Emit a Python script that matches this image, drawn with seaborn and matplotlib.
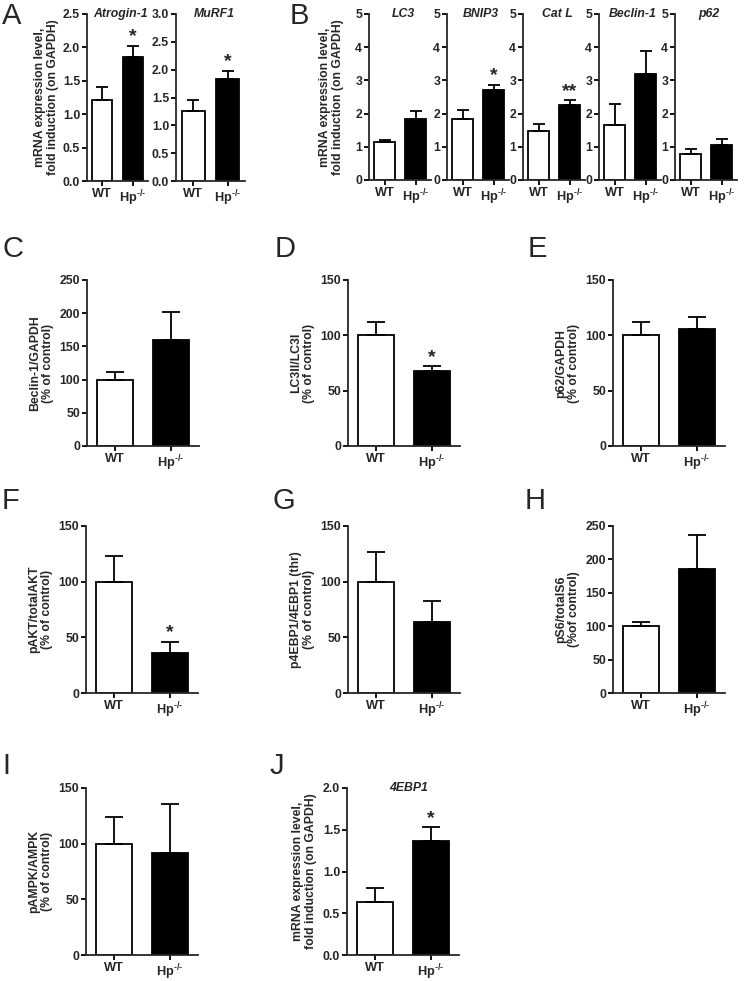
import matplotlib
matplotlib.use("Agg")
import matplotlib.pyplot as plt
import seaborn as sns
import numpy as np
import pandas as pd

sns.set_style("ticks")
plt.rcParams['font.family'] = ['Liberation Sans', 'DejaVu Sans']
plt.rcParams['mathtext.fontset'] = 'custom'
plt.rcParams['mathtext.rm'] = 'Liberation Sans:bold'
plt.rcParams['mathtext.bf'] = 'Liberation Sans:bold'
plt.rcParams['mathtext.it'] = 'Liberation Sans:italic'

# ---------------- data ----------------
groups = ["WT", "Hp-/-"]
group_labels = ["WT", r"Hp$^{\text{-/-}}$"]

atrogin_mean = [1.22, 1.85]
atrogin_sem = [0.18, 0.17]
murf1_mean = [1.25, 1.83]
murf1_sem = [0.21, 0.15]

lc3_mean = [1.15, 1.83]
lc3_sem = [0.05, 0.24]
bnip3_mean = [1.83, 2.70]
bnip3_sem = [0.29, 0.17]
catl_mean = [1.47, 2.25]
catl_sem = [0.21, 0.15]
beclin_mrna_mean = [1.65, 3.20]
beclin_mrna_sem = [0.63, 0.70]
p62_mrna_mean = [0.77, 1.05]
p62_mrna_sem = [0.16, 0.19]

beclin_prot_mean = [100, 160]
beclin_prot_sem = [12, 42]
lc3ratio_mean = [100, 68]
lc3ratio_sem = [12, 4]
p62_prot_mean = [100, 106]
p62_prot_sem = [12, 11]
pakt_mean = [100, 36]
pakt_sem = [23, 10]
p4ebp1_mean = [100, 64]
p4ebp1_sem = [27, 19]
ps6_mean = [100, 186]
ps6_sem = [7, 50]
pampk_mean = [100, 92]
pampk_sem = [24, 44]
ebp1_mrna_mean = [0.64, 1.37]
ebp1_mrna_sem = [0.16, 0.16]

W, H = 754, 981
fig = plt.figure(figsize=(W / 100, H / 100), dpi=100)

FS = 8.8
LW = 1.3


def make_ax(left, right, top, bottom):
    return fig.add_axes([left / W, 1 - bottom / H, (right - left) / W, (bottom - top) / H])


def panel(ax, mean, sem, ymax, yticks, fmt, ylabel=None, title=None, stars=(None, None),
          capsize=6, labelpad=4, width=0.66):
    df = pd.DataFrame({"group": groups, "value": mean})
    sns.barplot(data=df, x="group", y="value", hue="group", palette=["white", "black"],
                edgecolor="black", linewidth=LW, width=width, legend=False, ax=ax,
                errorbar=None)
    xs = np.arange(len(groups))
    ax.errorbar(xs, mean, yerr=[np.zeros(len(sem)), sem], fmt="none", ecolor="black",
                elinewidth=LW, capsize=capsize, capthick=LW, zorder=1)
    for x, m, s, st in zip(xs, mean, sem, stars):
        if st:
            ax.text(x, m + s + ymax * 0.003, st, ha="center", va="bottom",
                    fontsize=14, fontweight="bold")
    ax.set_xlim(-0.5, 1.5)
    ax.set_ylim(0, ymax)
    ax.set_yticks(yticks)
    ax.set_yticklabels([fmt.format(t) for t in yticks], fontsize=FS, fontweight="bold")
    ax.set_xticks(xs)
    ax.set_xticklabels(group_labels, fontsize=FS + 0.4, fontweight="bold")
    ax.set_xlabel("")
    ax.set_ylabel(ylabel if ylabel else "", fontsize=FS, fontweight="bold", labelpad=labelpad,
                  linespacing=1.1)
    for side in ["top", "right"]:
        ax.spines[side].set_visible(False)
    for side in ["left", "bottom"]:
        ax.spines[side].set_linewidth(LW)
    ax.tick_params(axis="both", width=LW, length=3.5, pad=1.5, color="black")
    ax.tick_params(axis="x", pad=1.5)
    if title:
        ax.text(0.55, 1.0, title, transform=ax.transAxes, ha="center", va="center",
                fontsize=FS, fontweight="bold", fontstyle="italic")


def letter(x, y, s):
    fig.text(x / W, 1 - y / H, s, fontsize=21, ha="left", va="top")


mrna_label = "mRNA expression level,\nfold induction (on GAPDH)"

# ---- Panel A ----
axA1 = make_ax(87, 148, 14, 181)
panel(axA1, atrogin_mean, atrogin_sem, 2.5, [0, 0.5, 1.0, 1.5, 2.0, 2.5], "{:.1f}",
      ylabel=mrna_label, title="Atrogin-1", stars=(None, "*"), capsize=4.3, labelpad=3)
axA2 = make_ax(176, 245, 14, 181)
panel(axA2, murf1_mean, murf1_sem, 3.0, [0, 0.5, 1.0, 1.5, 2.0, 2.5, 3.0], "{:.1f}",
      title="MuRF1", stars=(None, "*"), capsize=4.3)

# ---- Panel B ----
b_specs = [
    (369, lc3_mean, lc3_sem, "LC3", (None, None)),
    (447, bnip3_mean, bnip3_sem, "BNIP3", (None, "*")),
    (523, catl_mean, catl_sem, "Cat L", (None, "**")),
    (599, beclin_mrna_mean, beclin_mrna_sem, "Beclin-1", (None, None)),
    (675, p62_mrna_mean, p62_mrna_sem, "p62", (None, None)),
]
for i, (left, m, s, t, st) in enumerate(b_specs):
    ax = make_ax(left, left + 62, 14, 180)
    panel(ax, m, s, 5, [0, 1, 2, 3, 4, 5], "{:d}", ylabel=mrna_label if i == 0 else None,
          title=t, stars=st, capsize=4.3, labelpad=8)

# ---- Panels C, D, E ----
axC = make_ax(87, 199, 280, 446)
panel(axC, beclin_prot_mean, beclin_prot_sem, 250, [0, 50, 100, 150, 200, 250], "{:d}",
      ylabel="Beclin-1/GAPDH\n(% of control)", capsize=6.8)
axD = make_ax(348, 460, 280, 446)
panel(axD, lc3ratio_mean, lc3ratio_sem, 150, [0, 50, 100, 150], "{:d}",
      ylabel="LC3II/LC3I\n(% of control)", stars=(None, "*"), capsize=6.8)
axE = make_ax(613, 725, 280, 446)
panel(axE, p62_prot_mean, p62_prot_sem, 150, [0, 50, 100, 150], "{:d}",
      ylabel="p62/GAPDH\n(% of control)", capsize=6.8)

# ---- Panels F, G, H ----
axF = make_ax(86, 198, 526, 693)
panel(axF, pakt_mean, pakt_sem, 150, [0, 50, 100, 150], "{:d}",
      ylabel="pAKT/totalAKT\n(% of control)", stars=(None, "*"), capsize=6.8)
axG = make_ax(348, 460, 526, 693)
panel(axG, p4ebp1_mean, p4ebp1_sem, 150, [0, 50, 100, 150], "{:d}",
      ylabel="p4EBP1/4EBP1 (thr)\n(% of control)", capsize=6.8)
axH = make_ax(613, 725, 526, 693)
panel(axH, ps6_mean, ps6_sem, 250, [0, 50, 100, 150, 200, 250], "{:d}",
      ylabel="pS6/totalS6\n(%of control)", capsize=6.8)

# ---- Panels I, J ----
axI = make_ax(86, 198, 788, 955)
panel(axI, pampk_mean, pampk_sem, 150, [0, 50, 100, 150], "{:d}",
      ylabel="pAMPK/AMPK\n(% of control)", capsize=6.8)
axJ = make_ax(347, 459, 788, 955)
panel(axJ, ebp1_mrna_mean, ebp1_mrna_sem, 2.0, [0, 0.5, 1.0, 1.5, 2.0], "{:.1f}",
      ylabel=mrna_label, title="4EBP1", stars=(None, "*"), capsize=6.8)

# ---- panel letters ----
letter(2, 2, "A")
letter(290, 2, "B")
letter(3, 235, "C")
letter(275, 235, "D")
letter(528, 235, "E")
letter(2, 487, "F")
letter(273, 487, "G")
letter(525, 487, "H")
letter(2, 752, "I")
letter(270, 752, "J")

fig.savefig("out.png", dpi=100)
